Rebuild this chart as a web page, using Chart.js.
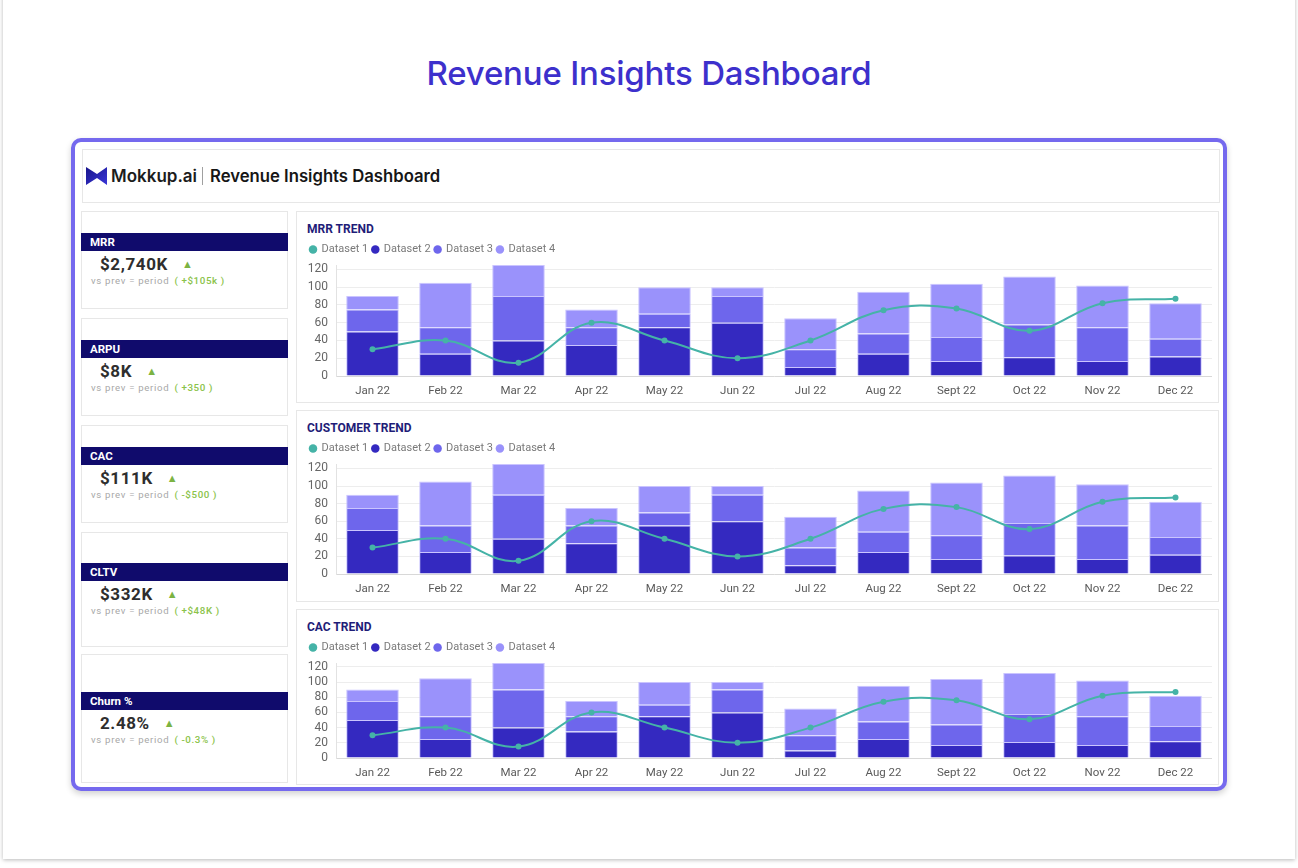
<!DOCTYPE html>
<html>
<head>
<meta charset="utf-8">
<script src="https://cdn.jsdelivr.net/npm/chart.js@4.4.1/dist/chart.umd.min.js"></script>
<style>
  html, body { margin: 0; padding: 0; }
  body { width: 1298px; height: 868px; position: relative; overflow: hidden; background: #ffffff; font-family: Roboto, "Noto Sans", sans-serif; }
  .page { position: absolute; left: 3px; top: -20px; width: 1292px; height: 879px; background: #fff; box-shadow: 0 1px 4px rgba(0,0,0,0.28); }
  .main-title { position: absolute; left: 0; width: 1298px; top: 52px; text-align: center; font-family: Inter, sans-serif; font-weight: 500; font-size: 33px; line-height: 42px; color: #3d30cc; letter-spacing: -0.2px; }
  .frame { position: absolute; left: 71px; top: 138px; width: 1156px; height: 653px; box-sizing: border-box; border: 4px solid #7569ee; border-radius: 10px; box-shadow: 0 3px 6px rgba(0,0,0,0.18); background: #fff; }
  .box { position: absolute; box-sizing: border-box; border: 1px solid #e7e7e7; background: #fff; }
  .hdr-logo { position: absolute; left: 86px; top: 166px; }
  .hdr-brand { position: absolute; left: 111px; top: 165px; font-family: Inter, sans-serif; font-weight: 600; font-size: 17px; line-height: 22px; color: #1c1c1c; }
  .hdr-div { position: absolute; left: 202px; top: 167px; width: 1px; height: 18px; background: #a0a0a0; }
  .hdr-title { position: absolute; left: 210px; top: 165px; font-family: Inter, sans-serif; font-weight: 600; font-size: 16.7px; line-height: 22px; color: #161616; }
  .card { display: flex; flex-direction: column; justify-content: center; }
  .card .lab { height: 18px; line-height: 18px; background: #100b6c; color: #fff; font-weight: 700; font-size: 11.5px; padding-left: 9px; margin: 0 -1px; }
  .card .val { height: 26px; line-height: 26px; padding-left: 18px; font-weight: 700; font-size: 17px; color: #2e2e2e; letter-spacing: 0.6px; white-space: nowrap; }
  .card .val .tri { color: #7cb342; font-size: 11px; margin-left: 14px; vertical-align: 2px; letter-spacing: 0; }
  .card .sub { height: 12px; line-height: 12px; margin-top: -2px; padding-left: 9px; font-size: 9.6px; color: #a8a8a8; letter-spacing: 0.7px; white-space: nowrap; }
  .card .sub .chg { color: #8bc34a; margin-left: 5px; letter-spacing: 0.6px; font-size: 9.8px; font-weight: 500; }
  .ptitle { position: absolute; left: 10px; top: 9px; font-weight: 700; font-size: 12px; line-height: 16px; color: #1f1d78; }
  canvas { position: absolute; }
</style>
</head>
<body>
<div class="page"></div>
<div class="main-title">Revenue Insights Dashboard</div>
<div class="frame"></div>

<div class="box" style="left:82px;top:149px;width:1138px;height:54px;"></div>
<svg class="hdr-logo" width="22" height="20" viewBox="0 0 22 20">
  <defs><linearGradient id="lg" x1="0" y1="0" x2="1" y2="1"><stop offset="0" stop-color="#17148a"/><stop offset="1" stop-color="#3a36d8"/></linearGradient></defs>
  <polygon points="0,1 11,8 21,1 21,19 11,12 0,19" fill="url(#lg)"/>
</svg>
<div class="hdr-brand">Mokkup.ai</div>
<div class="hdr-div"></div>
<div class="hdr-title">Revenue Insights Dashboard</div>

<div class="box card" style="left:81px;top:211px;width:207px;height:98px;">
  <div class="lab">MRR</div>
  <div class="val">$2,740K<span class="tri">▲</span></div>
  <div class="sub">vs prev = period<span class="chg">( +$105k )</span></div>
</div>
<div class="box card" style="left:81px;top:318px;width:207px;height:98px;">
  <div class="lab">ARPU</div>
  <div class="val">$8K<span class="tri">▲</span></div>
  <div class="sub">vs prev = period<span class="chg">( +350 )</span></div>
</div>
<div class="box card" style="left:81px;top:425px;width:207px;height:98px;">
  <div class="lab">CAC</div>
  <div class="val">$111K<span class="tri">▲</span></div>
  <div class="sub">vs prev = period<span class="chg">( -$500 )</span></div>
</div>
<div class="box card" style="left:81px;top:532px;width:207px;height:115px;">
  <div class="lab">CLTV</div>
  <div class="val">$332K<span class="tri">▲</span></div>
  <div class="sub">vs prev = period<span class="chg">( +$48K )</span></div>
</div>
<div class="box card" style="left:81px;top:654px;width:207px;height:129px;">
  <div class="lab">Churn %</div>
  <div class="val">2.48%<span class="tri">▲</span></div>
  <div class="sub">vs prev = period<span class="chg">( -0.3% )</span></div>
</div>

<div class="box" id="p1" style="left:296px;top:211px;width:923px;height:192px;">
  <div class="ptitle">MRR TREND</div>
  <canvas id="c1" width="906" height="158" style="left:9px;top:28px;"></canvas>
</div>
<div class="box" id="p2" style="left:296px;top:410px;width:923px;height:192px;">
  <div class="ptitle">CUSTOMER TREND</div>
  <canvas id="c2" width="906" height="157" style="left:9px;top:28px;"></canvas>
</div>
<div class="box" id="p3" style="left:296px;top:609px;width:923px;height:176px;">
  <div class="ptitle">CAC TREND</div>
  <canvas id="c3" width="906" height="142" style="left:9px;top:28px;"></canvas>
</div>

<script>
const months = ['Jan 22','Feb 22','Mar 22','Apr 22','May 22','Jun 22','Jul 22','Aug 22','Sept 22','Oct 22','Nov 22','Dec 22'];
const dataset1Line = [30, 40, 15, 60, 40, 20, 40, 74, 76, 51, 82, 87];
const dataset2Bars = [50, 25, 40, 35, 55, 60, 10, 25, 17, 21, 17, 22];
const dataset3Bars = [25, 30, 50, 20, 15, 30, 20, 23, 27, 37, 38, 20];
const dataset4Bars = [15, 50, 35, 20, 30, 10, 35, 47, 60, 54, 47, 40];
const yTicks = [0, 20, 40, 60, 80, 100, 120];
const yMax = 125;

const colLine = '#45b3a7';
const colD2 = '#3429c0';
const colD3 = '#6e66ec';
const colD4 = '#9a92fb';
const barBorder = 'rgba(196,190,255,0.9)';

function makeChart(id) {
  const ctx = document.getElementById(id);
  return new Chart(ctx, {
    type: 'bar',
    data: {
      labels: months,
      datasets: [
        { type: 'line', label: 'Dataset 1', data: dataset1Line, borderColor: colLine, backgroundColor: colLine,
          borderWidth: 2, tension: 0.4, pointRadius: 3, pointHoverRadius: 3, pointBackgroundColor: colLine,
          pointBorderWidth: 0, stack: 'line', order: 0 },
        { label: 'Dataset 2', data: dataset2Bars, backgroundColor: colD2, borderColor: barBorder, borderWidth: 1, stack: 'bars', order: 1 },
        { label: 'Dataset 3', data: dataset3Bars, backgroundColor: colD3, borderColor: barBorder, borderWidth: 1, stack: 'bars', order: 1 },
        { label: 'Dataset 4', data: dataset4Bars, backgroundColor: colD4, borderColor: barBorder, borderWidth: 1, stack: 'bars', order: 1 }
      ]
    },
    options: {
      responsive: false,
      animation: false,
      devicePixelRatio: 1,
      layout: { padding: 0, autoPadding: false },
      plugins: {
        tooltip: { enabled: false },
        legend: {
          display: true,
          position: 'top',
          align: 'start',
          labels: {
            usePointStyle: true,
            pointStyle: 'circle',
            boxWidth: 6,
            boxHeight: 6,
            padding: 4,
            color: '#7a7a7a',
            font: { family: 'Roboto', size: 11 },
            generateLabels(chart) {
              const items = Chart.defaults.plugins.legend.labels.generateLabels(chart);
              items.forEach(it => { it.strokeStyle = it.fillStyle; it.lineWidth = 0; it.pointStyle = 'circle'; });
              return items;
            }
          }
        }
      },
      scales: {
        x: {
          stacked: true,
          grid: { display: false, drawTicks: false },
          border: { display: true, color: '#d8d8d8' },
          ticks: { color: '#5a5a5a', font: { family: 'Roboto', size: 11.5 }, padding: 8, maxRotation: 0 },
          afterFit(scale) { scale.height = 22; }
        },
        y: {
          stacked: true,
          min: 0,
          max: yMax,
          afterBuildTicks(scale) { scale.ticks = yTicks.map(v => ({ value: v })); },
          grid: { color: '#ededed', drawTicks: false },
          border: { display: true, color: '#e2e2e2' },
          ticks: { color: '#666', font: { family: 'Roboto', size: 12 }, padding: 8, autoSkip: false },
          afterFit(scale) { scale.width = 30; }
        }
      }
    }
  });
}
makeChart('c1');
makeChart('c2');
makeChart('c3');
</script>
</body>
</html>
